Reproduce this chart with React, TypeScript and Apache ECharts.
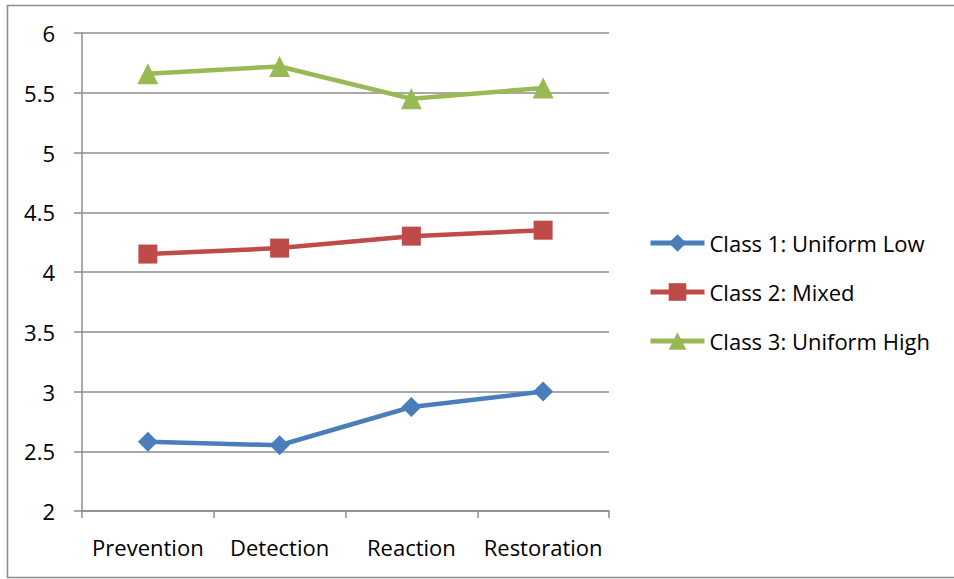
import React, { useEffect, useRef } from "react";
import * as echarts from "echarts";

const categories = ["Prevention", "Detection", "Reaction", "Restoration"];
const class1 = [2.58, 2.55, 2.87, 3.0];
const class2 = [4.15, 4.2, 4.3, 4.35];
const class3 = [5.66, 5.72, 5.45, 5.54];
const seriesNames = ["Class 1: Uniform Low", "Class 2: Mixed", "Class 3: Uniform High"];

const FONT = "'Open Sans', 'Noto Sans', sans-serif";

export default function App() {
  const ref = useRef<HTMLDivElement>(null);
  useEffect(() => {
    if (!ref.current) return;
    const chart = echarts.init(ref.current, undefined, { renderer: "svg" });
    const mk = (name: string, data: number[], color: string, symbol: string, size: number) => ({
      name,
      type: "line",
      data,
      symbol,
      symbolSize: size,
      lineStyle: { color, width: 4.5 },
      itemStyle: { color },
      emphasis: { disabled: true },
    });
    chart.setOption({
      animation: false,
      backgroundColor: "#ffffff",
      textStyle: { fontFamily: FONT },
      graphic: [
        {
          type: "rect",
          shape: { x: 7.5, y: 5.5, width: 960, height: 572 },
          style: { fill: "none", stroke: "#8c8c8c", lineWidth: 1.5 },
          silent: true,
        },
      ],
      grid: { left: 82, right: 345, top: 33, bottom: 68, containLabel: false },
      legend: {
        orient: "vertical",
        left: 648,
        top: 232,
        padding: 0,
        itemWidth: 54,
        itemHeight: 22,
        itemGap: 27,
        data: seriesNames,
        lineStyle: { width: 5 },
        textStyle: { fontFamily: FONT, fontSize: 22, color: "#000" },
      },
      xAxis: {
        type: "category",
        data: categories,
        boundaryGap: true,
        axisLine: { lineStyle: { color: "#8c8c8c", width: 1.5 } },
        axisTick: { show: true, length: 7, lineStyle: { color: "#8c8c8c", width: 1.5 } },
        axisLabel: { color: "#000", fontSize: 22, fontFamily: FONT, margin: 25, interval: 0 },
      },
      yAxis: {
        type: "value",
        min: 2,
        max: 6,
        interval: 0.5,
        axisLine: { show: true, lineStyle: { color: "#8c8c8c", width: 1.5 } },
        axisTick: { show: true, length: 8, lineStyle: { color: "#8c8c8c", width: 1.5 } },
        axisLabel: { color: "#000", fontSize: 22, fontFamily: FONT, margin: 27 },
        splitLine: { lineStyle: { color: "#8c8c8c", width: 1.5 } },
      },
      series: [
        mk(seriesNames[0], class1, "#4a7ebb", "diamond", 20),
        mk(seriesNames[1], class2, "#be4b48", "rect", 19),
        mk(seriesNames[2], class3, "#98b954", "triangle", 21),
      ],
    });
    return () => chart.dispose();
  }, []);
  return (
    <div
      ref={ref}
      style={{ position: "fixed", left: 0, top: 0, width: 954, height: 579, background: "#fff" }}
    />
  );
}
